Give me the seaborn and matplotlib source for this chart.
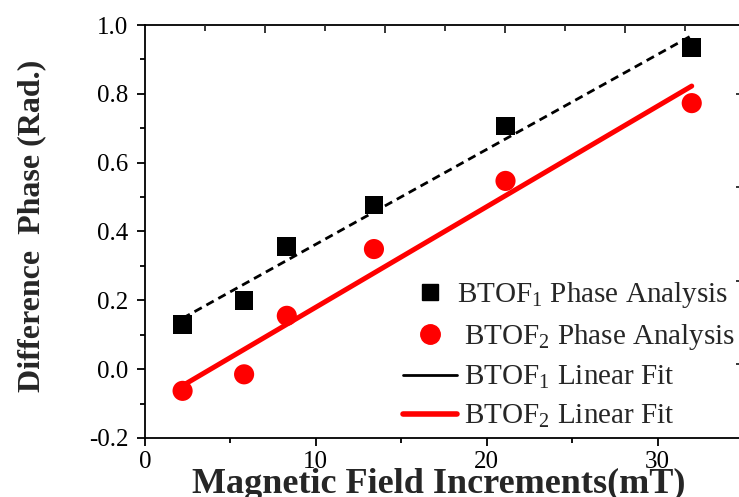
import numpy as np
import pandas as pd
import matplotlib
matplotlib.use("Agg")
import matplotlib.pyplot as plt
import seaborn as sns
from matplotlib.lines import Line2D
from matplotlib.ticker import MultipleLocator, FixedLocator, NullFormatter

# ---- data ----
field_mT = [2.2, 5.8, 8.3, 13.4, 21.1, 32.0]
btof1_phase = [0.130, 0.200, 0.357, 0.477, 0.707, 0.935]
btof2_phase = [-0.063, -0.015, 0.155, 0.349, 0.547, 0.773]
legend_labels = ["BTOF$_1$ Phase Analysis", " BTOF$_2$ Phase Analysis",
                 " BTOF$_1$ Linear Fit", " BTOF$_2$ Linear Fit"]
x_label = "Magnetic Field Increments(mT)"
y_label = "Difference  Phase (Rad.)"

df = pd.DataFrame({"field": field_mT, "b1": btof1_phase, "b2": btof2_phase})

sns.set_style("ticks")
plt.rcParams["font.family"] = ["Liberation Serif", "DejaVu Serif"]
plt.rcParams["mathtext.fontset"] = "custom"
plt.rcParams["mathtext.rm"] = "Liberation Serif"
plt.rcParams["mathtext.it"] = "Liberation Serif:italic"
plt.rcParams["mathtext.bf"] = "Liberation Serif:bold"

W, H = 739, 497
fig = plt.figure(figsize=(W / 100, H / 100), dpi=100)
ax = fig.add_axes([145 / W, 59 / H, 598 / W, 413 / H])

# fit lines (least squares through the points)
sns.regplot(data=df, x="field", y="b1", scatter=False, ci=None, ax=ax,
            color="black", line_kws=dict(lw=2.0, ls=(0, (3.0, 1.9)), zorder=3))
sns.regplot(data=df, x="field", y="b2", scatter=False, ci=None, ax=ax,
            color="red", line_kws=dict(lw=3.6, solid_capstyle="round", zorder=3))

sns.scatterplot(data=df, x="field", y="b1", marker="s", s=180, color="black",
                edgecolor="none", ax=ax, zorder=4)
sns.scatterplot(data=df, x="field", y="b2", marker="o", s=210, color="red",
                edgecolor="none", ax=ax, zorder=4)

ax.set_xlim(0, 35)
ax.set_ylim(-0.2, 1.0)
ax.xaxis.set_major_locator(MultipleLocator(10))
ax.xaxis.set_minor_locator(MultipleLocator(5))
ax.yaxis.set_major_locator(MultipleLocator(0.2))
ax.yaxis.set_minor_locator(MultipleLocator(0.1))
ax.yaxis.set_major_formatter(matplotlib.ticker.FormatStrFormatter("%.1f"))

for s in ax.spines.values():
    s.set_linewidth(1.3)
    s.set_color("black")
ax.tick_params(axis="both", which="major", direction="out", length=6, width=1.3,
               labelsize=18, color="black", labelcolor="black")
ax.tick_params(axis="both", which="minor", direction="out", length=3.8, width=1.3,
               color="black")
ax.tick_params(axis="y", which="major", pad=6)
ax.tick_params(axis="x", which="major", pad=3)
ax.tick_params(top=False, right=False, which="both")

ax.set_xlabel(x_label, fontsize=26, fontweight="bold")
ax.set_ylabel(y_label, fontsize=23, fontweight="bold")
ax.xaxis.set_label_coords(0.4916, -0.072)
ax.yaxis.set_label_coords(-0.165, 0.513)

# top axis with its own ticks (inward)
axt = ax.twiny()
axt.set_xlim(0, 35)
axt.xaxis.set_major_locator(FixedLocator([7.03, 14.06, 21.09, 28.12]))
axt.xaxis.set_minor_locator(FixedLocator([3.51, 10.54, 17.57, 24.6, 31.63]))
axt.xaxis.set_major_formatter(NullFormatter())
axt.tick_params(axis="x", which="major", direction="in", length=6, width=1.3)
axt.tick_params(axis="x", which="minor", direction="in", length=4, width=1.3)
for s in axt.spines.values():
    s.set_visible(False)

# right axis with its own ticks (inward)
axr = ax.twinx()
axr.set_ylim(-0.2, 1.0)
axr.yaxis.set_major_locator(FixedLocator([0.015, 0.256, 0.529, 0.80]))
axr.yaxis.set_minor_locator(FixedLocator([-0.11, 0.14, 0.401, 0.645, 0.881]))
axr.yaxis.set_major_formatter(NullFormatter())
axr.tick_params(axis="y", which="major", direction="in", length=5, width=1.3)
axr.tick_params(axis="y", which="minor", direction="in", length=3, width=1.0, color="#bbbbbb")
for s in axr.spines.values():
    s.set_visible(False)

handles = [
    Line2D([], [], marker="s", ls="none", color="black", ms=11),
    Line2D([], [], marker="o", ls="none", color="red", ms=14),
    Line2D([], [], color="black", lw=2),
    Line2D([], [], color="red", lw=4),
]
fig.legend(handles, legend_labels, loc="upper left",
           bbox_to_anchor=(403 / W, 1 - 280 / H), frameon=False,
           fontsize=21, handlelength=1.85, handletextpad=0.0,
           labelspacing=0.41, borderpad=0, borderaxespad=0)

fig.savefig("out.png", dpi=100)
